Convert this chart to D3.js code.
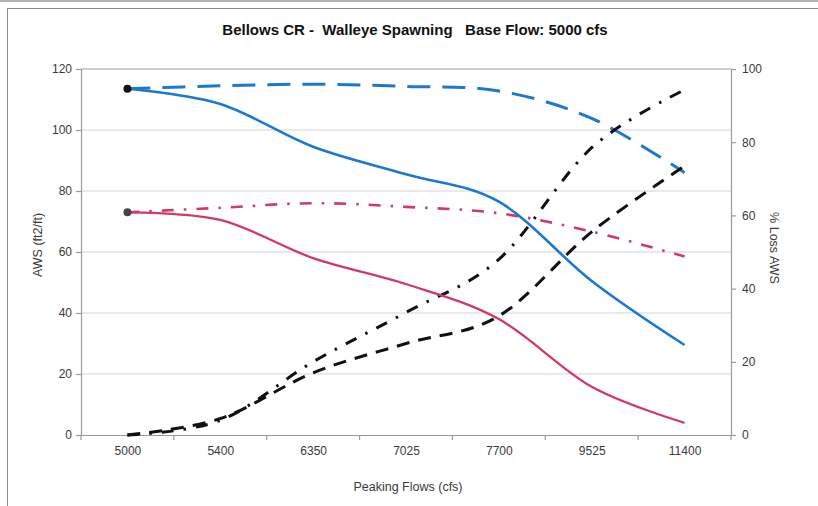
<!DOCTYPE html>
<html>
<head>
<meta charset="utf-8">
<script src="https://cdn.jsdelivr.net/npm/d3@7"></script>
<style>
  html, body { margin: 0; padding: 0; background: #fff; }
  svg { display: block; font-family: "Liberation Sans", Arial, sans-serif; }
</style>
</head>
<body>
<svg id="chart" width="818" height="506"></svg>
<script>
// ---- data ----
const categories = ["5000", "5400", "6350", "7025", "7700", "9525", "11400"];
const awsBlue      = [113.5, 108.5, 94.5, 85.5, 76.5, 50.5, 29.5];
const awsBlueBase  = [113.5, 114.5, 115, 114.3, 112.8, 103.8, 86];
const awsRed       = [73, 70.5, 58, 49.5, 38, 15.8, 4];
const awsRedBase   = [73, 74.5, 76, 74.8, 72.7, 66.7, 58.5];
const lossBlue     = [0, 4.5, 17, 25, 32.5, 55.5, 73.5];
const lossRed      = [0, 4, 20, 33.5, 48, 78.5, 94.3];
const leftTicks  = [0, 20, 40, 60, 80, 100, 120];
const rightTicks = [0, 20, 40, 60, 80, 100];
const titleText = "Bellows CR -  Walleye Spawning   Base Flow: 5000 cfs";

// ---- layout ----
const svg = d3.select("#chart");
const L = 81, R = 731, T = 69, B = 435;

const xBand = d3.scaleBand().domain(categories).range([L, R]).padding(0);
const x = d3.scalePoint().domain(categories).range([L, R]).padding(0.5);
const yL = d3.scaleLinear().domain([0, 120]).range([B, T]);
const yR = d3.scaleLinear().domain([0, 100]).range([B, T]);

// outer frame
svg.append("line").attr("x1", 0).attr("x2", 818).attr("y1", 1).attr("y2", 1)
  .attr("stroke", "#9a9a9a").attr("stroke-width", 1.5);
svg.append("rect").attr("x", 7.5).attr("y", 8.5).attr("width", 830).attr("height", 520)
  .attr("fill", "none").attr("stroke", "#8c8c8c").attr("stroke-width", 1);

// gridlines
svg.append("g").selectAll("line").data(leftTicks.filter(d => d > 0 && d < 120)).join("line")
  .attr("x1", L).attr("x2", R).attr("y1", d => yL(d)).attr("y2", d => yL(d))
  .attr("stroke", "#d4d4d4").attr("stroke-width", 1.2);

// plot top border
svg.append("line").attr("x1", L).attr("x2", R).attr("y1", T).attr("y2", T)
  .attr("stroke", "#9a9a9a").attr("stroke-width", 1.2);

// left axis
const gL = svg.append("g").attr("transform", `translate(${L},0)`)
  .call(d3.axisLeft(yL).tickValues(leftTicks).tickSize(5).tickPadding(4));
// right axis
const gR = svg.append("g").attr("transform", `translate(${R},0)`)
  .call(d3.axisRight(yR).tickValues(rightTicks).tickSize(5).tickPadding(6));
// bottom axis
const gB = svg.append("g").attr("transform", `translate(0,${B})`)
  .call(d3.axisBottom(x).tickSize(0).tickPadding(11));
// boundary ticks on x axis
svg.append("g").selectAll("line").data(categories.concat(["_end"])).join("line")
  .attr("x1", (d, i) => L + i * xBand.step()).attr("x2", (d, i) => L + i * xBand.step())
  .attr("y1", B).attr("y2", B + 5)
  .attr("stroke", "#9a9a9a").attr("stroke-width", 1.2);

[gL, gR, gB].forEach(g => {
  g.selectAll(".domain").attr("stroke", "#9a9a9a").attr("stroke-width", 1.2);
  g.selectAll(".tick line").attr("stroke", "#9a9a9a").attr("stroke-width", 1.2);
  g.selectAll("text").attr("fill", "#3a3a3a").style("font-size", "12px");
});

// series
function line(scale) {
  return d3.line()
    .x((d, i) => x(categories[i]))
    .y(d => scale(d))
    .curve(d3.curveCardinal.tension(0));
}
const blue = "#1d78cf", red = "#d23a63";

const series = [
  { data: awsBlueBase, scale: yL, color: blue, width: 3, dash: "23,12" },
  { data: awsRedBase, scale: yL, color: red, width: 2.6, dash: "12,10,2.5,10" },
  { data: lossBlue, scale: yR, color: "#111", width: 3, dash: "13,9" },
  { data: lossRed, scale: yR, color: "#111", width: 3, dash: "12,10,2.5,10" },
  { data: awsBlue, scale: yL, color: blue, width: 2.6, dash: null },
  { data: awsRed, scale: yL, color: red, width: 2.3, dash: null }
];
series.forEach(s => {
  svg.append("path").datum(s.data)
    .attr("d", line(s.scale))
    .attr("fill", "none")
    .attr("stroke", s.color)
    .attr("stroke-width", s.width)
    .attr("stroke-dasharray", s.dash);
});

// start markers
svg.append("circle").attr("cx", x(categories[0])).attr("cy", yL(awsBlue[0])).attr("r", 4).attr("fill", "#111");
svg.append("circle").attr("cx", x(categories[0])).attr("cy", yL(awsRed[0])).attr("r", 4).attr("fill", "#444");

// titles
svg.append("text").attr("x", 415).attr("y", 35).attr("text-anchor", "middle")
  .attr("xml:space", "preserve").style("white-space", "pre")
  .style("font-size", "15px").style("font-weight", "bold").attr("fill", "#111").text(titleText);
svg.append("text").attr("x", 408).attr("y", 491).attr("text-anchor", "middle")
  .style("font-size", "12.5px").attr("fill", "#3a3a3a").text("Peaking Flows (cfs)");
svg.append("text").attr("transform", "translate(42,245) rotate(-90)").attr("text-anchor", "middle")
  .style("font-size", "12.5px").attr("fill", "#3a3a3a").text("AWS (ft2/ft)");
svg.append("text").attr("transform", "translate(770,248) rotate(90)").attr("text-anchor", "middle")
  .style("font-size", "12.5px").attr("fill", "#3a3a3a").text("% Loss AWS");
</script>
</body>
</html>
